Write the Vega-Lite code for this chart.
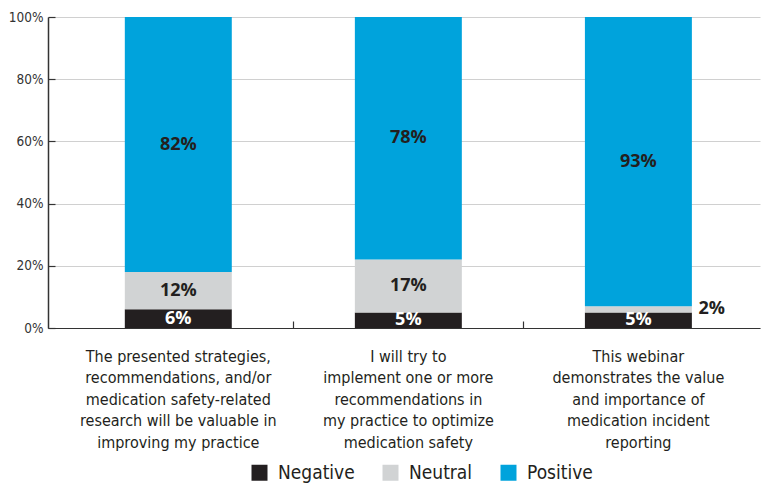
{
  "$schema": "https://vega.github.io/schema/vega-lite/v6.json",
  "width": 712,
  "height": 311,
  "autosize": {"type": "none"},
  "padding": {"left": 48, "top": 17, "right": 2, "bottom": 156},
  "background": "white",
  "config": {
    "font": "DejaVu Sans Condensed, Liberation Sans Narrow, Roboto, sans-serif",
    "view": {"stroke": null}
  },
  "data": {
    "values": [
      {"question": "The presented strategies,|recommendations, and/or|medication safety-related|research will be valuable in|improving my practice", "response": "Negative", "value": 6},
      {"question": "The presented strategies,|recommendations, and/or|medication safety-related|research will be valuable in|improving my practice", "response": "Neutral", "value": 12},
      {"question": "The presented strategies,|recommendations, and/or|medication safety-related|research will be valuable in|improving my practice", "response": "Positive", "value": 82},
      {"question": "I will try to|implement one or more|recommendations in|my practice to optimize|medication safety", "response": "Negative", "value": 5},
      {"question": "I will try to|implement one or more|recommendations in|my practice to optimize|medication safety", "response": "Neutral", "value": 17},
      {"question": "I will try to|implement one or more|recommendations in|my practice to optimize|medication safety", "response": "Positive", "value": 78},
      {"question": "This webinar|demonstrates the value|and importance of|medication incident|reporting", "response": "Negative", "value": 5},
      {"question": "This webinar|demonstrates the value|and importance of|medication incident|reporting", "response": "Neutral", "value": 2},
      {"question": "This webinar|demonstrates the value|and importance of|medication incident|reporting", "response": "Positive", "value": 93}
    ]
  },
  "transform": [
    {"stack": "value", "groupby": ["question"], "sort": [{"field": "response", "order": "ascending"}], "as": ["v0", "v1"]},
    {"calculate": "(datum.v0 + datum.v1) / 2", "as": "mid"},
    {"calculate": "datum.value + '%'", "as": "label"}
  ],
  "encoding": {
    "x": {
      "field": "question",
      "type": "nominal",
      "sort": null,
      "title": null,
      "scale": {"paddingInner": 0.535, "paddingOuter": 0.315, "align": 0.53},
      "axis": {
        "labelAngle": 0,
        "labelExpr": "split(datum.label, '|')",
        "labelFontSize": 16,
        "labelLineHeight": 21.5,
        "labelLimit": 400,
        "labelColor": "#231f20",
        "labelPadding": 27,
        "labelBaseline": "top",
        "bandPosition": 1.575,
        "tickSize": -7,
        "tickColor": "#333333",
        "tickWidth": 1.2,
        "tickOpacity": {"condition": {"test": "datum.index > 0.9", "value": 0}, "value": 1},
        "domainColor": "#333333",
        "domainWidth": 1.2,
        "grid": false
      }
    }
  },
  "layer": [
    {
      "mark": {"type": "bar"},
      "encoding": {
        "y": {
          "field": "v0",
          "type": "quantitative",
          "scale": {"domain": [0, 100]},
          "title": null,
          "axis": {
            "values": [0, 20, 40, 60, 80, 100],
            "labelExpr": "datum.value + '%'",
            "labelFontSize": 13.5,
            "labelColor": "#333333",
            "labelPadding": 12,
            "tickSize": -7,
            "tickColor": "#333333",
            "tickWidth": 1.2,
            "gridColor": "#d0d0d0",
            "gridWidth": 1.2,
            "domainColor": "#333333",
            "domainWidth": 1.5
          }
        },
        "y2": {"field": "v1"},
        "color": {
          "field": "response",
          "type": "nominal",
          "title": null,
          "scale": {"domain": ["Negative", "Neutral", "Positive"], "range": ["#231f20", "#d1d3d4", "#00a3dc"]},
          "legend": {
            "orient": "none",
            "direction": "horizontal",
            "legendX": 202,
            "legendY": 446,
            "symbolType": "square",
            "symbolSize": 256,
            "symbolStrokeWidth": 0,
            "symbolOpacity": 1,
            "labelFontSize": 19,
            "labelColor": "#231f20",
            "labelOffset": 9,
            "columnPadding": 26
          }
        }
      }
    },
    {
      "transform": [{"filter": "datum.value >= 3"}],
      "mark": {"type": "text", "fontWeight": "bold", "fontSize": 18, "font": "Open Sans, sans-serif", "baseline": "middle"},
      "encoding": {
        "y": {"field": "mid", "type": "quantitative"},
        "text": {"field": "label", "type": "nominal"},
        "color": {
          "condition": {"test": "datum.response === 'Negative'", "value": "white"},
          "value": "#231f20"
        }
      }
    },
    {
      "transform": [{"filter": "datum.value < 3"}],
      "mark": {"type": "text", "fontWeight": "bold", "fontSize": 18, "font": "Open Sans, sans-serif", "baseline": "middle", "align": "left", "dx": 60, "color": "#231f20"},
      "encoding": {
        "y": {"field": "mid", "type": "quantitative"},
        "text": {"field": "label", "type": "nominal"}
      }
    }
  ]
}
